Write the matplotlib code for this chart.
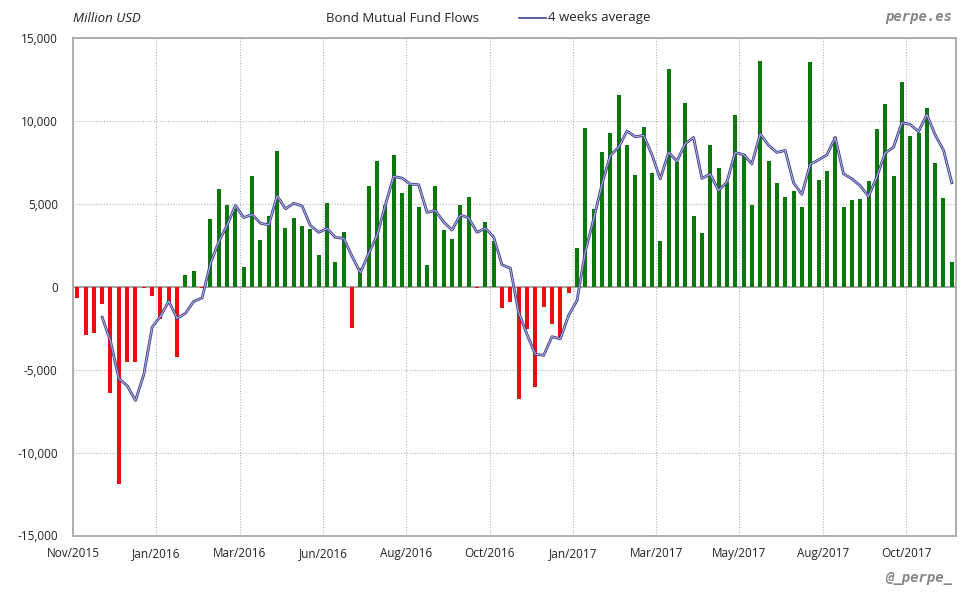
import matplotlib
matplotlib.use("Agg")
import matplotlib.pyplot as plt
import numpy as np

# weekly bond mutual fund flows, million USD (Nov 2015 -> Nov 2017)
flows = [
    -650, -2920, -2760, -1020, -6400, -11920, -4560, -4560, -100, -540,
    -1920, -900, -4260, 700, 950, -80, 4070, 5920, 4920, 4670,
    1180, 6660, 2800, 4260, 8200, 3520, 4120, 3640, 3460, 1900,
    5020, 1480, 3280, -2460, 1100, 6100, 7600, 4940, 7960, 5680,
    6160, 4780, 1300, 6100, 3400, 2860, 4900, 5440, -100, 3880,
    2740, -1260, -900, -6760, -2560, -6040, -1200, -2220, -3100, -360,
    2320, 9600, 4660, 8140, 9280, 11560, 8560, 6760, 9640, 6880,
    2740, 13120, 7540, 11100, 4240, 3240, 8560, 7140, 6340, 10360,
    8000, 4920, 13600, 7600, 6280, 5400, 5800, 4780, 13540, 6460,
    7000, 9000, 4780, 5260, 5320, 6400, 9520, 11040, 6660, 12340,
    9100, 9300, 10780, 7440, 5380, 1480,
]

# 4 weeks average as drawn (no value for the first three weeks)
avg4 = [
    np.nan, np.nan, np.nan, -1840, -3280, -5530, -5970, -6860, -5290, -2440,
    -1780, -870, -1910, -1600, -880, -670, 1410, 2720, 3710, 4900,
    4170, 4360, 3830, 3730, 5480, 4700, 5030, 4870, 3690, 3280,
    3510, 2970, 2920, 1830, 850, 2010, 3090, 4940, 6650, 6550,
    6190, 6150, 4480, 4590, 3900, 3420, 4320, 4150, 3280, 3530,
    2990, 1320, 1120, -1550, -2870, -4070, -4140, -3010, -3140, -1720,
    -840, 2120, 4070, 6180, 7920, 8410, 9390, 9040, 9130, 7960,
    6500, 8100, 7570, 8630, 9000, 6530, 6790, 5800, 6320, 8100,
    7960, 7410, 9220, 8530, 8100, 8220, 6270, 5570, 7380, 7650,
    7950, 9000, 6810, 6510, 6090, 5440, 6630, 8070, 8410, 9890,
    9790, 9350, 10380, 9160, 8230, 6270,
]

tick_labels = ["Nov/2015", "Jan/2016", "Mar/2016", "Jun/2016", "Aug/2016",
               "Oct/2016", "Jan/2017", "Mar/2017", "May/2017", "Aug/2017",
               "Oct/2017"]
weeks_per_tick = 10

plt.rcParams["font.family"] = ["Open Sans", "DejaVu Sans"]

fig = plt.figure(figsize=(9.8, 6.0), dpi=100)
ax = fig.add_axes([0.0745, 0.1075, 0.9010, 0.8292])

x = np.arange(len(flows))
vals = np.array(flows)
colors = np.where(vals < 0, "#ee0d0d", "#0a780a")
ax.bar(x, vals, width=0.48, color=colors, zorder=3)

# double stroke look of the average line
ax.plot(x, avg4, color="#40408c", lw=2.0, zorder=4)
ax.plot(x, avg4, color="#b8b8e2", lw=0.7, zorder=5)

ax.set_xlim(-0.5, len(flows) - 0.5)
ax.set_ylim(-15000, 15000)

tick_pos = np.arange(len(tick_labels)) * weeks_per_tick - 0.5
ax.set_xticks(tick_pos)
ax.set_xticklabels(tick_labels, fontsize=8.5, color="#222222")
yt = np.arange(-15000, 15001, 5000)
ax.set_yticks(yt)
ax.set_yticklabels([f"{v:,.0f}" for v in yt], fontsize=8.5, color="#222222")
ax.tick_params(length=0, pad=8)
ax.tick_params(axis="y", pad=11)

ax.grid(True, color="#b5b5b5", lw=0.8, linestyle=(0, (1, 1.5)), zorder=0)
ax.axhline(0, color="#a0a0a0", lw=1.3, zorder=2)
for sp in ax.spines.values():
    sp.set_color("#a8a8a8")
    sp.set_linewidth(1.3)

# header texts
fig.text(73 / 980, 1 - 18 / 600, "Million USD", fontsize=9.5, style="italic",
         color="#222222", va="center", ha="left")
fig.text(326 / 980, 1 - 18 / 600, "Bond Mutual Fund Flows", fontsize=9.5,
         color="#222222", va="center", ha="left")
fig.lines.append(plt.Line2D([519 / 980, 546 / 980], [1 - 18 / 600, 1 - 18 / 600],
                            transform=fig.transFigure, color="#40408c", lw=1.2))
fig.text(548 / 980, 1 - 18 / 600, "4 weeks average", fontsize=9.5,
         color="#222222", va="center", ha="left")
fig.text(952 / 980, 1 - 17 / 600, "perpe.es", family="DejaVu Sans Mono",
         fontsize=10, weight="bold", style="italic", color="#858585",
         va="center", ha="right")
fig.text(952 / 980, 1 - 578 / 600, "@_perpe_", family="DejaVu Sans Mono",
         fontsize=10, weight="bold", style="italic", color="#858585",
         va="center", ha="right")

fig.savefig("out.png", dpi=100, facecolor="white")
plt.close(fig)
